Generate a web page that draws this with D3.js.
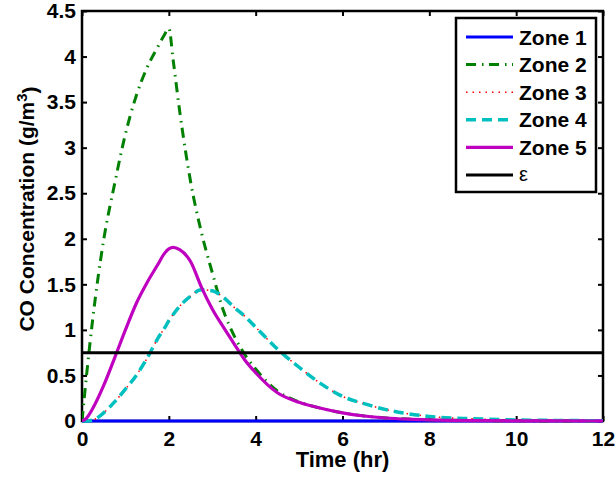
<!DOCTYPE html>
<html>
<head>
<meta charset="utf-8">
<script src="https://cdnjs.cloudflare.com/ajax/libs/d3/7.8.5/d3.min.js"></script>
<style>
body { margin: 0; background: #fff; }
svg text { font-family: "Liberation Sans", Arial, sans-serif; font-weight: bold; fill: #000; }
</style>
</head>
<body>
<div id="chart"></div>
<script>
// values (time in hr, CO in g/m3)
let time  = [0, 0.1, 0.25, 0.5, 0.75, 1, 1.25, 1.5, 1.75, 1.9, 2, 2.1, 2.25, 2.5, 2.75, 3, 3.25, 3.5, 3.75, 4, 4.5, 5, 5.5, 6, 6.5, 7, 7.5, 8, 9, 10, 11, 12];
let zone1 = [0, 0, 0, 0, 0, 0, 0, 0, 0, 0, 0, 0, 0, 0, 0, 0, 0, 0, 0, 0, 0, 0, 0, 0, 0, 0, 0, 0, 0, 0, 0, 0];
let zone2 = [0, 0.48, 1.13, 1.99, 2.6, 3.15, 3.57, 3.88, 4.11, 4.24, 4.31, 3.96, 3.4, 2.63, 2.07, 1.63, 1.22, 0.94, 0.73, 0.57, 0.33, 0.21, 0.14, 0.09, 0.055, 0.034, 0.021, 0.013, 0.005, 0.002, 0.001, 0];
let zone3 = [0, 0, 0.01, 0.09, 0.21, 0.35, 0.5, 0.69, 0.91, 1.02, 1.1, 1.17, 1.26, 1.37, 1.44, 1.43, 1.36, 1.25, 1.15, 1.03, 0.79, 0.59, 0.41, 0.27, 0.19, 0.125, 0.08, 0.05, 0.025, 0.012, 0.006, 0.003];
let zone4 = [0, 0, 0.01, 0.09, 0.21, 0.35, 0.5, 0.69, 0.91, 1.02, 1.1, 1.17, 1.26, 1.37, 1.44, 1.43, 1.36, 1.25, 1.15, 1.03, 0.79, 0.59, 0.41, 0.27, 0.19, 0.125, 0.08, 0.05, 0.025, 0.012, 0.006, 0.003];
let zone5 = [0, 0.03, 0.14, 0.39, 0.69, 1.0, 1.29, 1.52, 1.72, 1.84, 1.89, 1.905, 1.88, 1.75, 1.47, 1.23, 1.035, 0.85, 0.67, 0.53, 0.31, 0.205, 0.14, 0.09, 0.055, 0.033, 0.02, 0.012, 0.004, 0.002, 0.001, 0];
let epsilon = 0.75;

let seriesNames = ["Zone 1", "Zone 2", "Zone 3", "Zone 4", "Zone 5", "\u03b5"];
let xTicks = [0, 2, 4, 6, 8, 10, 12];
let yTicks = [0, 0.5, 1, 1.5, 2, 2.5, 3, 3.5, 4, 4.5];
let yTickLabels = ["0", "0.5", "1", "1.5", "2", "2.5", "3", "3.5", "4", "4.5"];

let W = 616, H = 482;
let plot = { left: 82, top: 11, right: 603, bottom: 421 };

let svg = d3.select("#chart").append("svg")
    .attr("width", W)
    .attr("height", H);

let x = d3.scaleLinear().domain([0, 12]).range([plot.left, plot.right]);
let y = d3.scaleLinear().domain([0, 4.5]).range([plot.bottom, plot.top]);

// line look for each series, same order as seriesNames
let styles = [
    { color: "#0000ff", width: 3, dash: null },
    { color: "#008000", width: 3, dash: "10,6,1.5,5.5" },
    { color: "#ff0000", width: 1.5, dash: "1.5,5" },
    { color: "#00bfbf", width: 3.5, dash: "10,6" },
    { color: "#bf00bf", width: 3.2, dash: null },
    { color: "#000000", width: 3, dash: null }
];

let seriesValues = [zone1, zone2, zone3, zone4, zone5, time.map(function() { return epsilon; })];

svg.append("clipPath").attr("id", "clip")
    .append("rect")
    .attr("x", plot.left).attr("y", plot.top - 2)
    .attr("width", plot.right - plot.left).attr("height", plot.bottom - plot.top + 4);

// frame
svg.append("rect")
    .attr("x", plot.left).attr("y", plot.top)
    .attr("width", plot.right - plot.left).attr("height", plot.bottom - plot.top)
    .attr("fill", "none").attr("stroke", "#000").attr("stroke-width", 2.5);

// axes, ticks inward on all four sides
let xAxis = svg.append("g").attr("transform", "translate(0," + plot.bottom + ")")
    .call(d3.axisBottom(x).tickValues(xTicks).tickSizeInner(-5).tickSizeOuter(0).tickPadding(10));
let xTop = svg.append("g").attr("transform", "translate(0," + plot.top + ")")
    .call(d3.axisTop(x).tickValues(xTicks).tickSizeInner(-5).tickSizeOuter(0).tickFormat(""));
let yAxis = svg.append("g").attr("transform", "translate(" + plot.left + ",0)")
    .call(d3.axisLeft(y).tickValues(yTicks).tickSizeInner(-5).tickSizeOuter(0).tickPadding(6)
        .tickFormat(function(d, i) { return yTickLabels[i]; }));
let yRight = svg.append("g").attr("transform", "translate(" + plot.right + ",0)")
    .call(d3.axisRight(y).tickValues(yTicks).tickSizeInner(-5).tickSizeOuter(0).tickFormat(""));

[xAxis, xTop, yAxis, yRight].forEach(function(g) {
    g.select(".domain").remove();
    g.selectAll(".tick line").attr("stroke", "#000").attr("stroke-width", 2);
    g.selectAll(".tick text")
        .attr("font-family", null)
        .style("font-size", "21px");
});

// curves
let line = d3.line()
    .x(function(d) { return x(d[0]); })
    .y(function(d) { return y(d[1]); })
    .curve(d3.curveMonotoneX);

let curves = svg.append("g").attr("clip-path", "url(#clip)");
seriesValues.forEach(function(vals, i) {
    let pts = time.map(function(t, j) { return [t, vals[j]]; });
    curves.append("path")
        .datum(pts)
        .attr("d", line)
        .attr("fill", "none")
        .attr("stroke", styles[i].color)
        .attr("stroke-width", styles[i].width)
        .attr("stroke-dasharray", styles[i].dash)
        .attr("stroke-linejoin", "round");
});

// axis titles
svg.append("text")
    .attr("x", (plot.left + plot.right) / 2)
    .attr("y", 467)
    .attr("text-anchor", "middle")
    .style("font-size", "22px")
    .text("Time (hr)");

let yTitle = svg.append("text")
    .attr("transform", "translate(34,209) rotate(-90)")
    .attr("text-anchor", "middle")
    .style("font-size", "21px");
yTitle.append("tspan").text("CO Concentration (g/m");
yTitle.append("tspan").attr("dy", "-0.45em").style("font-size", "15px").text("3");
yTitle.append("tspan").attr("dy", "0.45em").text(")");

// legend
let legend = svg.append("g");
legend.append("rect")
    .attr("x", 456).attr("y", 18)
    .attr("width", 140).attr("height", 174)
    .attr("fill", "#fff").attr("stroke", "#000").attr("stroke-width", 2.5);

let rowY = d3.scalePoint().domain(seriesNames).range([37, 175]);

seriesNames.forEach(function(name, i) {
    let cy = rowY(name);
    legend.append("line")
        .attr("x1", 466).attr("x2", 513)
        .attr("y1", cy).attr("y2", cy)
        .attr("stroke", styles[i].color)
        .attr("stroke-width", styles[i].width)
        .attr("stroke-dasharray", styles[i].dash);
    let t = legend.append("text")
        .attr("x", 519)
        .attr("y", cy + 7.5)
        .style("font-size", "21px")
        .text(name);
    if (name == "\u03b5") {
        t.style("font-weight", "normal").style("font-size", "20px").attr("y", cy + 6);
    }
});
</script>
</body>
</html>
